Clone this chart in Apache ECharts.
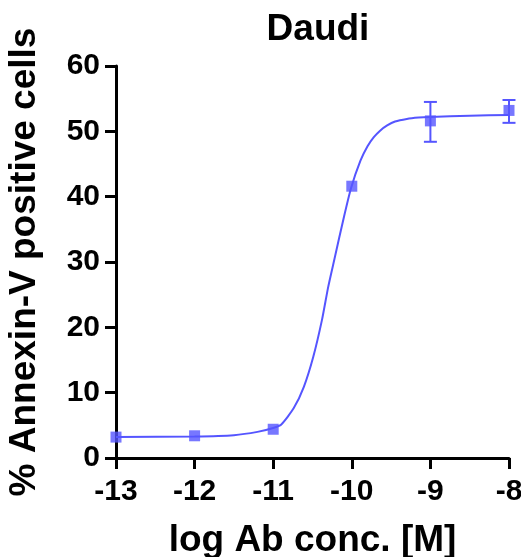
<!DOCTYPE html>
<html>
<head>
<meta charset="utf-8">
<script src="https://cdn.jsdelivr.net/npm/echarts@6/dist/echarts.min.js"></script>
<style>html,body{margin:0;padding:0;background:#fff;}#chart{width:521px;height:557px;}</style>
</head>
<body>
<div id="chart"></div>
<script>
// Measured points (log concentration, mean %) and error bar ends
var pointX = [-13, -12, -11, -10, -9, -8];
var pointY = [3.2, 3.4, 4.4, 41.6, 51.6, 53.2];
var errLow = [3.2, 3.4, 4.4, 41.6, 48.4, 51.3];
var errHigh = [3.2, 3.4, 4.4, 41.6, 54.5, 54.8];
// Fitted curve
var curveX = [-13, -12, -11.5, -11.2, -11, -10.9, -10.74, -10.61, -10.49, -10.38, -10.3, -10.22, -10.1, -10.01, -9.89, -9.8, -9.72, -9.64, -9.55, -9.45, -9.3, -9.15, -9, -8.5, -8];
var curveY = [3.2, 3.3, 3.5, 4.0, 4.6, 5.1, 7.6, 10.9, 15.5, 21.1, 26.2, 30.5, 36.9, 41.3, 45.5, 47.7, 49.1, 50.1, 50.9, 51.5, 51.9, 52.1, 52.2, 52.4, 52.5];
var yTicks = [0, 10, 20, 30, 40, 50, 60];
var titleText = 'Daudi';
var xName = 'log Ab conc. [M]';
var yName = '% Annexin-V positive cells';

var color = '#5555FF';
var font = 'Liberation Sans, Arial, sans-serif';
var chart = echarts.init(document.getElementById('chart'), null, {renderer: 'canvas'});

var curveData = curveX.map(function (x, i) { return [x, curveY[i]]; });
var pointData = pointX.map(function (x, i) { return [x, pointY[i]]; });
var errData = pointX.map(function (x, i) { return [x, errLow[i], errHigh[i]]; });

chart.setOption({
  animation: false,
  backgroundColor: '#fff',
  title: {
    text: titleText, left: 313, top: 6, textAlign: 'center',
    textStyle: {fontFamily: font, fontWeight: 'bold', fontSize: 37, color: '#000'}
  },
  grid: {left: 116, top: 66, width: 393, height: 392, containLabel: false, outerBoundsMode: 'none'},
  xAxis: {
    type: 'value', min: -13, max: -8, interval: 1,
    name: xName, nameLocation: 'middle', nameGap: 64,
    nameTextStyle: {fontFamily: font, fontWeight: 'bold', fontSize: 37, color: '#000'},
    axisLine: {show: true, lineStyle: {color: '#000', width: 3}},
    axisTick: {show: true, length: 11, lineStyle: {color: '#000', width: 3}},
    axisLabel: {margin: 19, fontFamily: font, fontWeight: 'bold', fontSize: 30, color: '#000'},
    splitLine: {show: false}
  },
  yAxis: {
    type: 'value', min: yTicks[0], max: yTicks[yTicks.length - 1], interval: 10,
    name: yName, nameLocation: 'middle', nameGap: 73, nameRotate: 90,
    nameTextStyle: {fontFamily: font, fontWeight: 'bold', fontSize: 37, color: '#000'},
    axisLine: {show: true, lineStyle: {color: '#000', width: 3}},
    axisTick: {show: true, length: 11, lineStyle: {color: '#000', width: 3}},
    axisLabel: {margin: 16, fontFamily: font, fontWeight: 'bold', fontSize: 30, color: '#000'},
    splitLine: {show: false}
  },
  series: [
    {
      type: 'line', data: curveData, smooth: 0.2, showSymbol: false, symbol: 'none',
      lineStyle: {color: color, width: 2}, clip: false, z: 2
    },
    {
      type: 'custom', data: errData, clip: false, z: 3,
      renderItem: function (params, api) {
        var x = api.value(0);
        var lo = api.coord([x, api.value(1)]);
        var hi = api.coord([x, api.value(2)]);
        if (Math.abs(hi[1] - lo[1]) < 1) return null;
        var w = 6.5;
        var st = {stroke: color, lineWidth: 2};
        return {
          type: 'group',
          children: [
            {type: 'line', shape: {x1: lo[0], y1: lo[1], x2: hi[0], y2: hi[1]}, style: st},
            {type: 'line', shape: {x1: lo[0] - w, y1: lo[1], x2: lo[0] + w, y2: lo[1]}, style: st},
            {type: 'line', shape: {x1: hi[0] - w, y1: hi[1], x2: hi[0] + w, y2: hi[1]}, style: st}
          ]
        };
      }
    },
    {
      type: 'scatter', data: pointData, symbol: 'rect', symbolSize: 11, clip: false, z: 4,
      itemStyle: {color: color}
    }
  ]
});
</script>
</body>
</html>
